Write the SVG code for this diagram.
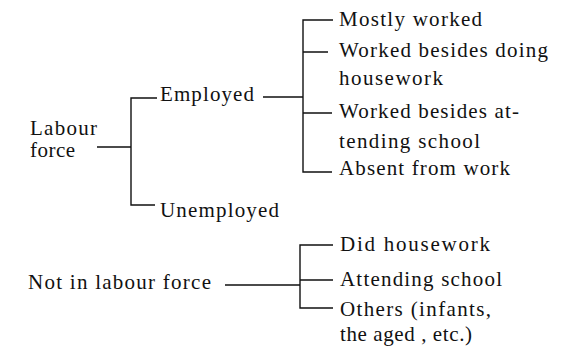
<svg xmlns="http://www.w3.org/2000/svg" width="577" height="349" viewBox="0 0 577 349">
<style>
.c{stroke:#111;stroke-width:1.4;fill:none}
</style>
<rect width="577" height="349" fill="#fff"/>
<g id="connectors">
<path class="c" d="M97 147H131M157 98H131V205H155"/>
<path class="c" d="M263 97H303M333 20H303V172H332M303 52H328M303 113H332"/>
<path class="c" d="M225 285H300M333 245H300V308H333M300 280H333"/>
</g>
<g font-family="Liberation Serif, serif" font-size="21" fill="#111" lengthAdjust="spacing">
<g id="labour-force"><text x="30" y="135" textLength="67" lengthAdjust="spacing">Labour</text><text x="30" y="157" textLength="45" lengthAdjust="spacing">force</text></g>
<g id="employed"><text x="160" y="101" textLength="94" lengthAdjust="spacing">Employed</text></g>
<g id="unemployed"><text x="160" y="217" textLength="119" lengthAdjust="spacing">Unemployed</text></g>
<g id="mostly-worked"><text x="339" y="26" textLength="143" lengthAdjust="spacing">Mostly worked</text></g>
<g id="worked-housework"><text x="339" y="57" textLength="209" lengthAdjust="spacing">Worked besides doing</text><text x="339" y="85" textLength="104" lengthAdjust="spacing">housework</text></g>
<g id="worked-school"><text x="339" y="118" textLength="180" lengthAdjust="spacing">Worked besides at-</text><text x="339" y="148" textLength="141" lengthAdjust="spacing">tending school</text></g>
<g id="absent"><text x="339" y="175" textLength="171" lengthAdjust="spacing">Absent from work</text></g>
<g id="not-in-labour-force"><text x="28" y="289" textLength="183" lengthAdjust="spacing">Not in labour force</text></g>
<g id="did-housework"><text x="340" y="251" textLength="150" lengthAdjust="spacing">Did housework</text></g>
<g id="attending-school"><text x="340" y="286" textLength="162" lengthAdjust="spacing">Attending school</text></g>
<g id="others"><text x="340" y="316" textLength="151" lengthAdjust="spacing">Others (infants,</text><text x="340" y="341" textLength="132" lengthAdjust="spacing">the aged , etc.)</text></g>
</g>
</svg>
